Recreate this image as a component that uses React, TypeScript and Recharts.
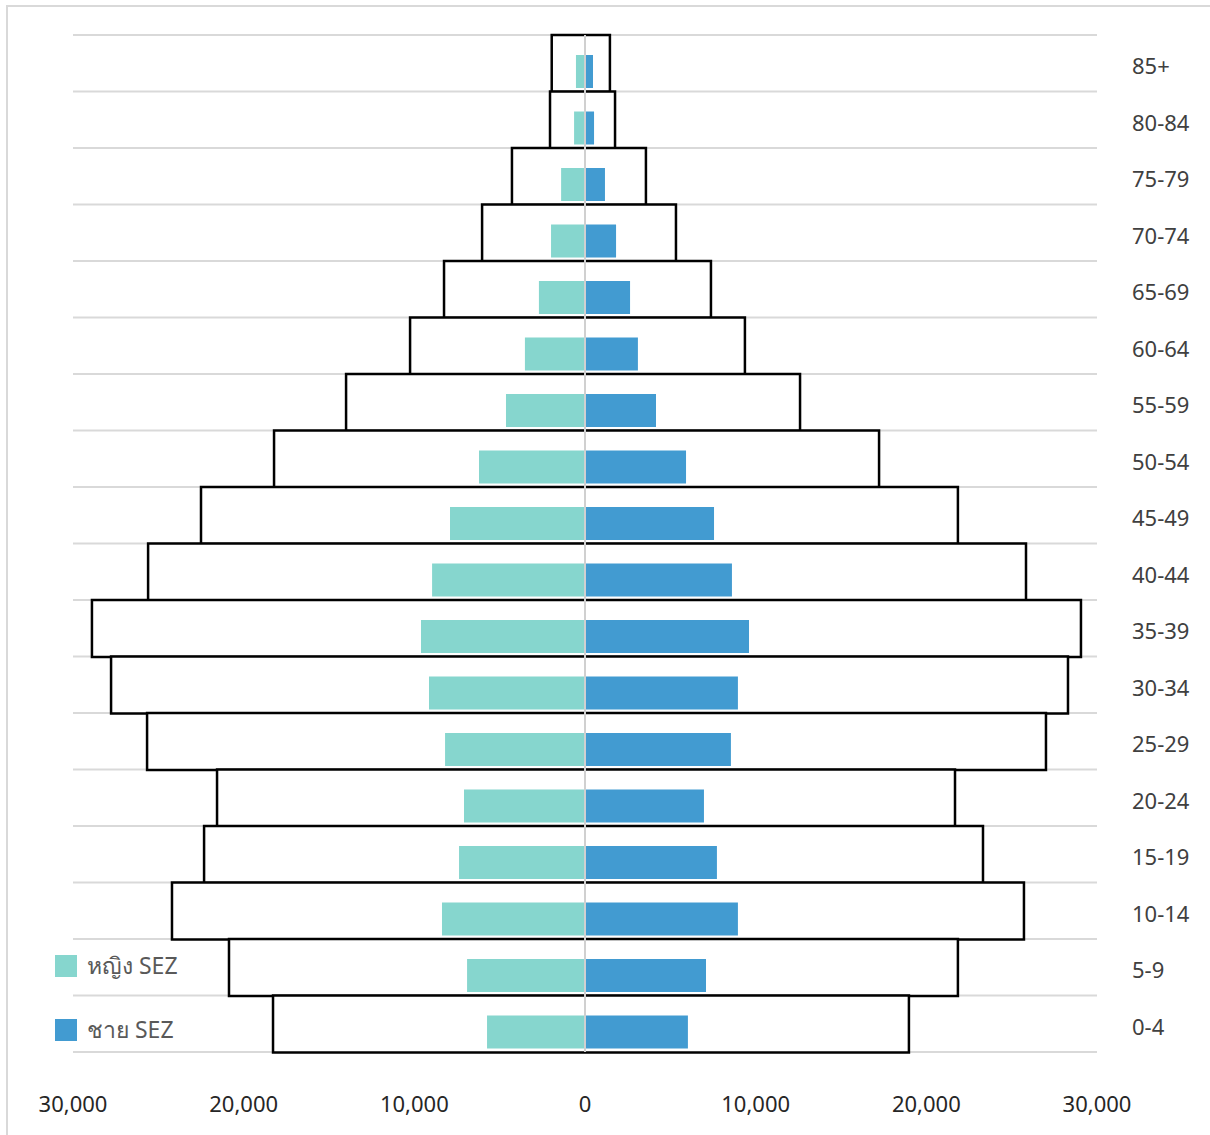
import React from 'react';
import {
  BarChart,
  Bar,
  XAxis,
  YAxis,
  CartesianGrid,
  ReferenceLine,
  Legend,
} from 'recharts';

const ageGroups = [
  '85+', '80-84', '75-79', '70-74', '65-69', '60-64', '55-59', '50-54', '45-49',
  '40-44', '35-39', '30-34', '25-29', '20-24', '15-19', '10-14', '5-9', '0-4',
];

// total population (outlined bars)
const femaleTotal = [
  1950, 2050, 4280, 6030, 8260, 10250, 14000, 18220, 22500,
  25600, 28890, 27770, 25660, 21560, 22320, 24200, 20860, 18280,
];
const maleTotal = [
  1460, 1760, 3570, 5330, 7380, 9370, 12600, 17230, 21850,
  25840, 29060, 28300, 27010, 21680, 23320, 25720, 21850, 18980,
];

// SEZ population (filled bars)
const femaleSez = [
  530, 640, 1400, 1990, 2700, 3520, 4630, 6210, 7910,
  8960, 9610, 9140, 8200, 7090, 7380, 8380, 6910, 5740,
];
const maleSez = [
  470, 530, 1170, 1820, 2640, 3100, 4160, 5920, 7560,
  8610, 9610, 8960, 8550, 6970, 7730, 8960, 7090, 6030,
];

const seriesNames = ['หญิง SEZ', 'ชาย SEZ'];
const xTicks = [-30000, -20000, -10000, 0, 10000, 20000, 30000];

const data = ageGroups.map((age, i) => ({
  age,
  total: [-femaleTotal[i], maleTotal[i]],
  femaleSez: -femaleSez[i],
  maleSez: maleSez[i],
  spacer: 0,
}));

const FEMALE = '#86D6CE';
const MALE = '#429BD1';

const fmt = (v: number) => Math.abs(v).toLocaleString('en-US');

const gridGen = ({ offset }: any) => {
  const n = ageGroups.length;
  return Array.from({ length: n + 1 }, (_, i) => offset.top + (i * offset.height) / n);
};

const LegendContent = (props: any) => {
  const payload = (props.payload || [])
    .filter((p: any) => seriesNames.includes(p.value))
    .sort((a: any, b: any) => seriesNames.indexOf(a.value) - seriesNames.indexOf(b.value));
  return (
    <div style={{ fontFamily: 'Noto Sans, sans-serif' }}>
      {payload.map((e: any, i: number) => (
        <div
          key={i}
          style={{ display: 'flex', alignItems: 'center', height: 22, marginBottom: i === 0 ? 42 : 0 }}
        >
          <div style={{ width: 22, height: 22, background: e.color, marginRight: 10 }} />
          <span style={{ fontSize: 23, color: '#595959', whiteSpace: 'nowrap' }}>{e.value}</span>
        </div>
      ))}
    </div>
  );
};

export default function App() {
  return (
    <div style={{ position: 'absolute', left: 0, top: 0, width: 1210, height: 1135, background: '#fff' }}>
      <div
        style={{
          position: 'absolute',
          left: 6,
          top: 5,
          width: 1210,
          height: 1135,
          borderLeft: '2px solid #d9d9d9',
          borderTop: '2px solid #d9d9d9',
        }}
      />
      <div style={{ position: 'absolute', left: 0, top: 0 }}>
        <BarChart
          width={1210}
          height={1135}
          data={data}
          layout="vertical"
          stackOffset="sign"
          barCategoryGap={0}
          barGap={4}
          margin={{ top: 35, right: 13, bottom: 23, left: 73 }}
        >
          <CartesianGrid
            yAxisId="outer"
            horizontal
            vertical={false}
            stroke="#d9d9d9"
            strokeWidth={2}
            horizontalCoordinatesGenerator={gridGen}
          />
          <XAxis
            type="number"
            domain={[-30000, 30000]}
            ticks={xTicks}
            tickFormatter={fmt}
            axisLine={false}
            tickLine={false}
            tickMargin={38}
            height={60}
            interval={0}
            tick={{ fontSize: 22, fill: '#262626', fontFamily: 'Noto Sans, sans-serif' }}
          />
          <YAxis
            yAxisId="inner"
            type="category"
            dataKey="age"
            orientation="left"
            width={0}
            hide
          />
          <YAxis
            yAxisId="outer"
            type="category"
            dataKey="age"
            orientation="right"
            width={100}
            axisLine={false}
            tickLine={false}
            tickMargin={29}
            interval={0}
            tick={{ fontSize: 22, fill: '#404040', fontFamily: 'Noto Sans, sans-serif', dy: 3 }}
          />
          <Bar
            yAxisId="outer"
            dataKey="total"
            fill="#ffffff"
            stroke="#000000"
            strokeWidth={2.5}
            legendType="none"
            isAnimationActive={false}
          />
          <Bar
            yAxisId="inner"
            dataKey="spacer"
            stackId="spacer"
            barSize={13}
            fill="none"
            legendType="none"
            isAnimationActive={false}
          />
          <Bar
            yAxisId="inner"
            dataKey="femaleSez"
            name={seriesNames[0]}
            stackId="sez"
            barSize={33}
            fill={FEMALE}
            isAnimationActive={false}
          />
          <Bar
            yAxisId="inner"
            dataKey="maleSez"
            name={seriesNames[1]}
            stackId="sez"
            barSize={33}
            fill={MALE}
            isAnimationActive={false}
          />
          <ReferenceLine x={0} yAxisId="outer" stroke="#d0d0d0" strokeWidth={2} />
          <Legend
            layout="vertical"
            align="center"
            verticalAlign="middle"
            content={<LegendContent />}
            wrapperStyle={{ left: 55, top: 955, width: 200, height: 90 }}
          />
        </BarChart>
      </div>
    </div>
  );
}
